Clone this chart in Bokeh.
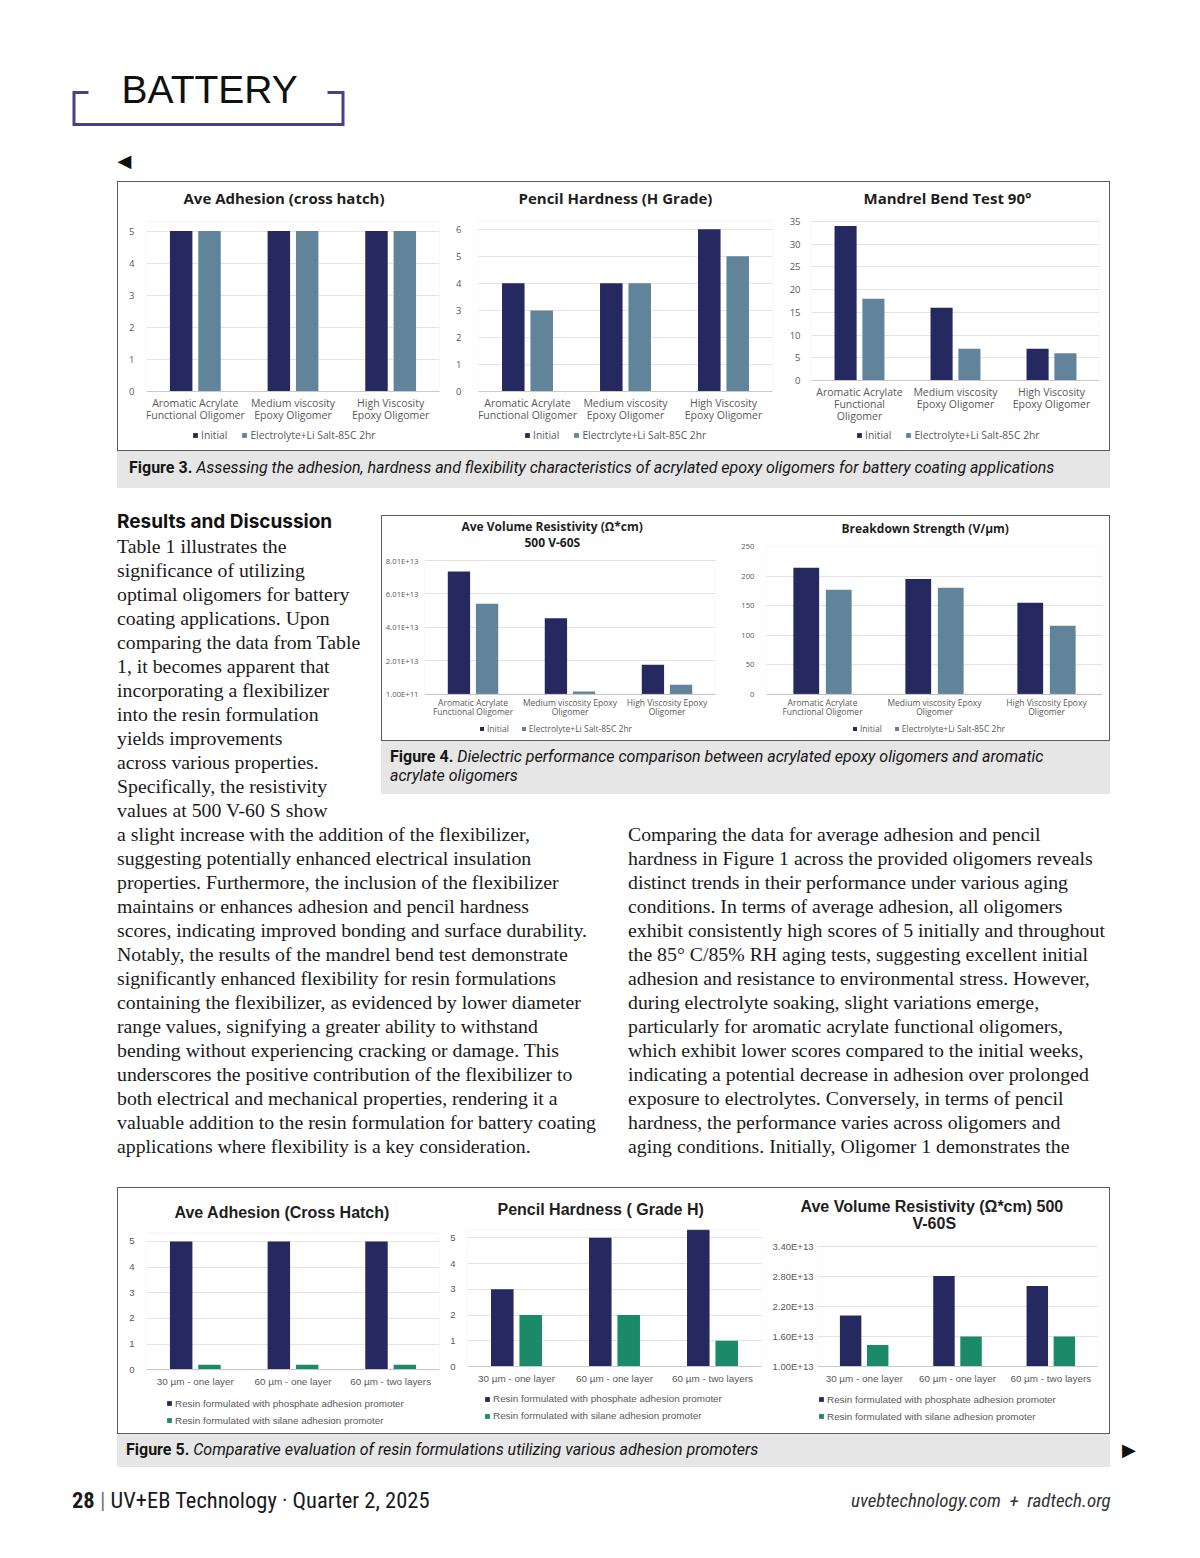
from bokeh.plotting import figure
from bokeh.models import (Range1d, FactorRange, ColumnDataSource, Legend, LegendItem,
                          FixedTicker, Div, Spacer, Title, BoxAnnotation)
from bokeh.layouts import column, row
from bokeh.transform import dodge
from bokeh.core.properties import value
from bokeh.embed import file_html
from bokeh.resources import INLINE

# ---------------- data ----------------
fig3_oligomers = ["Aromatic Acrylate\nFunctional Oligomer", "Medium viscosity\nEpoxy Oligomer",
                  "High Viscosity\nEpoxy Oligomer"]
mandrel_oligomers = ["Aromatic Acrylate\nFunctional\nOligomer", "Medium viscosity\nEpoxy Oligomer",
                     "High Viscosity\nEpoxy Oligomer"]
fig4_oligomers = ["Aromatic Acrylate\nFunctional Oligomer", "Medium viscosity Epoxy\nOligomer",
                  "High Viscosity Epoxy\nOligomer"]
aging_series = ["Initial", "Electrolyte+Li Salt-85C 2hr"]
hardness_series = ["Initial", "Electrclyte+Li Salt-85C 2hr"]

adhesion_initial = [5, 5, 5]
adhesion_electrolyte = [5, 5, 5]
adhesion_ticks = [0, 1, 2, 3, 4, 5]

hardness_initial = [4, 4, 6]
hardness_electrolyte = [3, 4, 5]
hardness_ticks = [0, 1, 2, 3, 4, 5, 6]

mandrel_initial = [34, 16, 7]
mandrel_electrolyte = [18, 7, 6]
mandrel_ticks = [0, 5, 10, 15, 20, 25, 30, 35]

resistivity_initial = [7.35e13, 4.56e13, 1.77e13]
resistivity_electrolyte = [5.42e13, 1.7e12, 5.7e12]
resistivity_ticks = [1.0e11, 2.01e13, 4.01e13, 6.01e13, 8.01e13]
resistivity_tick_labels = ["1.00E+11", "2.01E+13", "4.01E+13", "6.01E+13", "8.01E+13"]

breakdown_initial = [214, 195, 155]
breakdown_electrolyte = [177, 180, 116]
breakdown_ticks = [0, 50, 100, 150, 200, 250]

layer_configs = ["30 µm - one layer", "60 µm - one layer", "60 µm - two layers"]
promoter_series = ["Resin formulated with phosphate adhesion promoter",
                   "Resin formulated with silane adhesion promoter"]
adhesion5_phosphate = [5, 5, 5]
adhesion5_silane = [0.2, 0.2, 0.2]
adhesion5_ticks = [0, 1, 2, 3, 4, 5]
hardness5_phosphate = [3, 5, 6]
hardness5_silane = [2, 2, 1]
hardness5_ticks = [0, 1, 2, 3, 4, 5]
resistivity5_phosphate = [2.02e13, 2.81e13, 2.61e13]
resistivity5_silane = [1.43e13, 1.60e13, 1.60e13]
resistivity5_ticks = [1.0e13, 1.6e13, 2.2e13, 2.8e13, 3.4e13]
resistivity5_tick_labels = ["1.00E+13", "1.60E+13", "2.20E+13", "2.80E+13", "3.40E+13"]

# ---------------- styles ----------------
NAVY = "#26295f"
SLATE = "#62849b"
GREEN = "#1b8a69"
GRID = "#e4e4e4"
TXT = "#595959"
OS = "Open Sans"
LS = "Liberation Sans"

try:
    Title(text="x", standoff=-2)
    NEG_STANDOFF_OK = True
except Exception:
    NEG_STANDOFF_OK = False


def bar_chart(cats, top1, top2, names, colors, y_start, y_end, ticks, tick_labels, titles,
              font, sizes, canvas, frame_lr, frame_tb, data_tb, title_standoffs, title_offsets,
              legend_pos, spacer=None, legend_vertical=False, glyph=6, legend_spacing=14,
              xstandoff=6, ystandoff=9, x_line_height=1.0):
    """Geometry arguments are page pixel positions (layout only)."""
    title_size, tick_size, cat_size, legend_size = sizes
    x0, y0, w, h = canvas
    fl, fr = frame_lr
    ft, fb = frame_tb
    dt, db = data_tb
    k = (db - dt) / (y_end - y_start)           # px per unit
    y_lo = y_start - (fb - db) / k
    y_hi = y_end + (dt - ft) / k

    src = ColumnDataSource(data=dict(cat=cats, s1=top1, s2=top2))
    p = figure(width=w, height=h, x_range=FactorRange(factors=cats),
               y_range=Range1d(y_lo, y_hi), output_backend="svg",
               toolbar_location=None, tools="", margin=0,
               min_border_left=fl - x0, min_border_right=x0 + w - fr,
               min_border_top=ft - y0, min_border_bottom=y0 + h - fb)
    try:
        p.frame_align = False
    except Exception:
        pass
    p.x_range.range_padding = 0

    def style_title(t, so, off, size):
        t.align = "left"
        t.offset = off
        t.text_font = font
        t.text_font_size = size
        t.text_font_style = "bold"
        t.text_color = "#1e1e1e"
        t.standoff = so
    if spacer is not None:
        t = Title(text=" ")
        style_title(t, spacer[1], 0, spacer[0])
        p.add_layout(t, "above")
    for line, so, off in reversed(list(zip(titles[1:], title_standoffs[1:], title_offsets[1:]))):
        t = Title(text=line)
        style_title(t, so, off, title_size)
        p.add_layout(t, "above")
    p.title.text = titles[0]
    style_title(p.title, title_standoffs[0], title_offsets[0], title_size)

    r1 = p.vbar(x=dodge("cat", -0.145, range=p.x_range), top="s1", bottom=y_start, width=0.23,
                source=src, fill_color=colors[0], line_color=None)
    r2 = p.vbar(x=dodge("cat", 0.145, range=p.x_range), top="s2", bottom=y_start, width=0.23,
                source=src, fill_color=colors[1], line_color=None)

    p.yaxis.ticker = FixedTicker(ticks=ticks)
    if tick_labels:
        p.yaxis.major_label_overrides = {t: l for t, l in zip(ticks, tick_labels)}
    p.yaxis.axis_line_color = None
    p.yaxis.major_tick_line_color = None
    p.yaxis.minor_tick_line_color = None
    p.yaxis.major_tick_out = 0
    p.yaxis.major_tick_in = 0
    p.yaxis.major_label_text_font = font
    p.yaxis.major_label_text_font_size = tick_size
    p.yaxis.major_label_text_color = TXT
    p.yaxis.major_label_standoff = ystandoff

    p.xaxis.fixed_location = y_start
    p.xaxis.axis_line_color = "#c4c4c4"
    p.xaxis.major_tick_line_color = None
    p.xaxis.minor_tick_line_color = None
    p.xaxis.major_tick_out = 0
    p.xaxis.major_tick_in = 0
    p.xaxis.major_label_text_font = font
    p.xaxis.major_label_text_font_size = cat_size
    p.xaxis.major_label_text_color = TXT
    p.xaxis.major_label_text_line_height = x_line_height
    p.xaxis.major_label_standoff = xstandoff

    p.xgrid.grid_line_color = None
    p.ygrid.grid_line_color = GRID
    p.outline_line_color = None
    p.background_fill_color = "white"
    p.border_fill_color = "white"
    p.add_layout(BoxAnnotation(left=0, right=len(cats), bottom=y_start, top=y_end,
                               fill_alpha=0, line_color="#d6d6d6", line_width=1))

    fs = float(legend_size[:-2])
    lh = int(round(fs + 2))
    leg_h = 2 * lh + legend_spacing if legend_vertical else lh
    lx, lcy = legend_pos
    leg = Legend(items=[LegendItem(label=names[0], renderers=[r1]),
                        LegendItem(label=names[1], renderers=[r2])],
                 orientation="vertical" if legend_vertical else "horizontal",
                 location=(lx - fl, fb - lcy - leg_h / 2), label_text_font=font,
                 label_text_font_size=legend_size, label_text_color=TXT,
                 glyph_width=glyph, glyph_height=glyph, label_height=lh, label_standoff=3,
                 spacing=legend_spacing, padding=0, margin=0,
                 border_line_color=None, background_fill_alpha=0)
    p.add_layout(leg, "center")
    return column([p], margin=0)


# ---------------- Figure 3 (canvas y 182..450) ----------------
F3 = dict(font=OS, sizes=("15px", "9.5px", "10.5px", "10.3px"), frame_tb=(209, 448),
          xstandoff=4, x_line_height=0.87, title_standoffs=[3])
c1 = bar_chart(fig3_oligomers, adhesion_initial, adhesion_electrolyte, aging_series, [NAVY, SLATE],
               0, 5.3, adhesion_ticks, None, ["Ave Adhesion (cross hatch)"],
               canvas=(118, 182, 332, 268), frame_lr=(146, 439), data_tb=(221, 391),
               title_offsets=[37], legend_pos=(192, 436), ystandoff=12, **F3)
c2 = bar_chart(fig3_oligomers, hardness_initial, hardness_electrolyte, hardness_series, [NAVY, SLATE],
               0, 6.3, hardness_ticks, None, ["Pencil Hardness (H Grade)"],
               canvas=(450, 182, 330, 268), frame_lr=(478, 772), data_tb=(220.7, 391),
               title_offsets=[40], legend_pos=(524, 436), ystandoff=17, **F3)
c3 = bar_chart(mandrel_oligomers, mandrel_initial, mandrel_electrolyte, aging_series, [NAVY, SLATE],
               0, 35, mandrel_ticks, None, ["Mandrel Bend Test 90°"],
               canvas=(780, 182, 329, 268), frame_lr=(811, 1099), data_tb=(221, 380),
               title_offsets=[52], legend_pos=(856, 436), ystandoff=11, **F3)

# ---------------- Figure 4 (canvas y 516..740) ----------------
F4 = dict(font=OS, sizes=("12px", "7.7px", "8.5px", "8.5px"),
          glyph=5, legend_spacing=12, xstandoff=3, x_line_height=0.82)
if NEG_STANDOFF_OK:
    c4a_top, c4a_so = 548, [-3, -4]
else:
    c4a_top, c4a_so = 554, [0, 0]
c4a = bar_chart(fig4_oligomers, resistivity_initial, resistivity_electrolyte, aging_series, [NAVY, SLATE],
                1.0e11, 8.01e13, resistivity_ticks, resistivity_tick_labels,
                ["Ave Volume Resistivity (Ω*cm)", "500 V-60S"],
                canvas=(382, 516, 353, 224), frame_lr=(424, 715), frame_tb=(c4a_top, 738),
                data_tb=(560, 693.7), title_standoffs=c4a_so, title_offsets=[37, 100],
                legend_pos=(479, 729), ystandoff=6, **F4)
c4b = bar_chart(fig4_oligomers, breakdown_initial, breakdown_electrolyte, aging_series, [NAVY, SLATE],
                0, 250, breakdown_ticks, None, ["Breakdown Strength (V/µm)"],
                canvas=(735, 516, 374, 224), frame_lr=(766, 1102), frame_tb=(546, 738),
                data_tb=(546, 693.7), title_standoffs=[0], title_offsets=[75], spacer=("3px", 4),
                legend_pos=(852, 729), ystandoff=12, **F4)

# ---------------- Figure 5 (canvas y 1189..1434) ----------------
F5 = dict(font=LS, sizes=("16px", "9.5px", "9.9px", "9.9px"),
          legend_vertical=True, glyph=6, legend_spacing=5, xstandoff=6)
if NEG_STANDOFF_OK:
    c5c_top, c5c_so = 1231, [-2, -2]
else:
    c5c_top, c5c_so = 1232, [0, 0]
c5a = bar_chart(layer_configs, adhesion5_phosphate, adhesion5_silane, promoter_series, [NAVY, GREEN],
                0, 5.32, adhesion5_ticks, None, ["Ave Adhesion (Cross Hatch)"],
                canvas=(118, 1189, 328, 245), frame_lr=(146, 439), frame_tb=(1231, 1432),
                data_tb=(1233.7, 1370.3), title_standoffs=[20], title_offsets=[28],
                legend_pos=(166, 1412.5), ystandoff=12, **F5)
c5b = bar_chart(layer_configs, hardness5_phosphate, hardness5_silane, promoter_series, [NAVY, GREEN],
                0, 5.31, hardness5_ticks, None, ["Pencil Hardness ( Grade H)"],
                canvas=(446, 1189, 316, 245), frame_lr=(467, 761), frame_tb=(1230, 1432),
                data_tb=(1230.3, 1367), title_standoffs=[0], title_offsets=[30], spacer=("3px", 7),
                legend_pos=(484, 1408), ystandoff=12, **F5)
c5c = bar_chart(layer_configs, resistivity5_phosphate, resistivity5_silane, promoter_series, [NAVY, GREEN],
                1.0e13, 3.4e13, resistivity5_ticks, resistivity5_tick_labels,
                ["Ave Volume Resistivity (Ω*cm)  500", "V-60S"],
                canvas=(762, 1189, 347, 245), frame_lr=(817, 1097), frame_tb=(c5c_top, 1432),
                data_tb=(1247, 1367), title_standoffs=c5c_so, title_offsets=[-17, 95],
                legend_pos=(818, 1408.5), ystandoff=4, **F5)

BOX = {"border": "1px solid #5c5c5c"}
fig3_box = row([c1, c2, c3], styles=BOX, margin=0)
fig4_box = row([c4a, c4b], styles=BOX, margin=0)
fig5_box = row([c5a, c5b, c5c], styles=BOX, margin=0)

# ---------------- header ----------------
hdr = figure(width=1150, height=181, x_range=Range1d(0, 1150), y_range=Range1d(181, 0),
             output_backend="svg", toolbar_location=None, tools="", margin=0,
             min_border=0, outline_line_color=None)
hdr.axis.visible = False
hdr.grid.visible = False
hdr.line(x=[88, 73.5, 73.5, 342.5, 342.5, 327], y=[92, 92, 124, 124, 92, 92],
         line_color="#4b3e8c", line_width=3, line_join="miter")
hdr.text(x=[121], y=[89], text=["BATTERY"], text_font=value("Liberation Sans"),
         text_font_size="39px", text_baseline="middle", text_align="left", text_color="#111111")
hdr.text(x=[117], y=[160], text=["◀"], text_font=value("DejaVu Sans"),
         text_font_size="18px", text_baseline="middle", text_align="left", text_color="#111111")

CAP_FONT = "Roboto, 'Liberation Sans', sans-serif"
FOOT_FONT = "'Liberation Sans Narrow', 'Roboto Condensed', Roboto, sans-serif"
BODY_FONT = "'Liberation Serif', serif"


def caption(html, w, h, pad_top, pad_left):
    return Div(text=f'<div style="box-sizing:border-box;width:{w}px;height:{h}px;background:#e6e6e6;'
                    f'padding:{pad_top}px 0 0 {pad_left}px;font-family:{CAP_FONT};font-size:16px;'
                    f'line-height:19px;color:#161616;white-space:nowrap;">{html}</div>',
               width=w, height=h, margin=0)


cap3 = caption("<b>Figure 3.</b> <i>Assessing the adhesion, hardness and flexibility characteristics "
               "of acrylated epoxy oligomers for battery coating applications</i>", 993, 37, 7, 12)
cap4 = caption("<b>Figure 4.</b> <i>Dielectric performance comparison between acrylated epoxy "
               "oligomers and aromatic<br>acrylate oligomers</i>", 729, 53, 6, 9)
cap5 = caption("<b>Figure 5.</b> <i>Comparative evaluation of resin formulations utilizing various "
               "adhesion promoters</i>", 993, 33, 6, 9)

mid_lines = ["Table 1 illustrates the", "significance of utilizing", "optimal oligomers for battery",
             "coating applications. Upon", "comparing the data from Table", "1, it becomes apparent that",
             "incorporating a flexibilizer", "into the resin formulation", "yields improvements",
             "across various properties.", "Specifically, the resistivity", "values at 500 V-60 S show"]
left_lines = ["a slight increase with the addition of the flexibilizer,",
              "suggesting potentially enhanced electrical insulation",
              "properties. Furthermore, the inclusion of the flexibilizer",
              "maintains or enhances adhesion and pencil hardness",
              "scores, indicating improved bonding and surface durability.",
              "Notably, the results of the mandrel bend test demonstrate",
              "significantly enhanced flexibility for resin formulations",
              "containing the flexibilizer, as evidenced by lower diameter",
              "range values, signifying a greater ability to withstand",
              "bending without experiencing cracking or damage. This",
              "underscores the positive contribution of the flexibilizer to",
              "both electrical and mechanical properties, rendering it a",
              "valuable addition to the resin formulation for battery coating",
              "applications where flexibility is a key consideration."]
right_lines = ["Comparing the data for average adhesion and pencil",
               "hardness in Figure 1 across the provided oligomers reveals",
               "distinct trends in their performance under various aging",
               "conditions. In terms of average adhesion, all oligomers",
               "exhibit consistently high scores of 5 initially and throughout",
               "the 85° C/85% RH aging tests, suggesting excellent initial",
               "adhesion and resistance to environmental stress. However,",
               "during electrolyte soaking, slight variations emerge,",
               "particularly for aromatic acrylate functional oligomers,",
               "which exhibit lower scores compared to the initial weeks,",
               "indicating a potential decrease in adhesion over prolonged",
               "exposure to electrolytes. Conversely, in terms of pencil",
               "hardness, the performance varies across oligomers and",
               "aging conditions. Initially, Oligomer 1 demonstrates the"]


def body(lines, w, h, heading=None):
    head = ""
    if heading:
        head = (f'<div style="font-family:Inter, Roboto, sans-serif;font-weight:700;font-size:19px;'
                f'line-height:24px;color:#111;">{heading}</div>')
    return Div(text=f'<div style="width:{w}px;height:{h}px;overflow:hidden;white-space:nowrap;">{head}'
                    f'<div style="font-family:{BODY_FONT};font-size:19.8px;line-height:24px;color:#1a1a1a;">'
                    + "<br>".join(lines) + "</div></div>",
               width=w, height=h, margin=0)


mid_text = body(mid_lines, 264, 312, heading="Results and Discussion")
left_text = body(left_lines, 511, 336)
right_text = body(right_lines, 482, 336)

arrow_r = Div(text='<div style="padding:6px 0 0 12px;font-family:\'DejaVu Sans\';font-size:18px;'
                   'line-height:19px;color:#111;">▶</div>', width=40, height=33, margin=0)

footer = Div(text=f'<div style="position:relative;width:1192px;height:30px;">'
                  f'<div style="position:absolute;left:72px;top:0;font-family:{FOOT_FONT};font-size:22.5px;'
                  f'line-height:26px;color:#1a1a1a;white-space:nowrap;"><b>28</b> '
                  f'<span style="color:#777;">|</span> UV+EB Technology · Quarter 2, 2025</div>'
                  f'<div style="position:absolute;left:851px;top:2px;font-family:{FOOT_FONT};font-size:19px;'
                  f'line-height:24px;color:#333;font-style:italic;white-space:nowrap;">'
                  f'uvebtechnology.com&nbsp; +&nbsp; radtech.org</div></div>',
             width=1192, height=30, margin=0)


def sp(w, h):
    return Spacer(width=w, height=h, margin=0)


layout = column([
    hdr,
    row([sp(117, 270), fig3_box], margin=0),
    row([sp(117, 37), cap3], margin=0),
    sp(1150, 22),
    row([sp(117, 312), mid_text, column([sp(729, 5), fig4_box, cap4], margin=0)], margin=0),
    row([sp(117, 336), left_text, sp(0, 336), right_text], margin=0),
    sp(1150, 29),
    row([sp(117, 247), fig5_box], margin=0),
    row([sp(117, 33), cap5, arrow_r], margin=0),
    sp(1150, 20),
    footer,
], margin=0)

open("out.html", "w").write(file_html(layout, INLINE))
